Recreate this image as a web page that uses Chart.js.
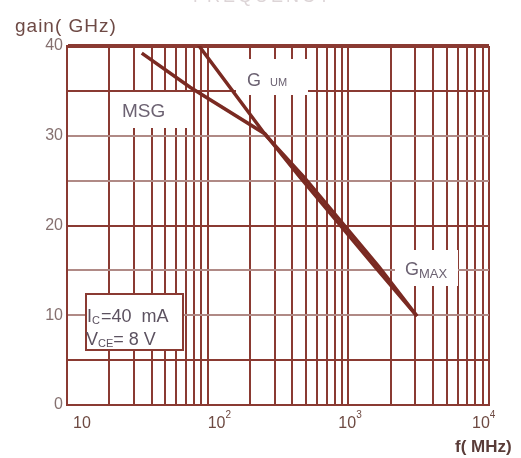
<!DOCTYPE html>
<html><head><meta charset="utf-8">
<script src="https://cdn.jsdelivr.net/npm/chart.js@4.4.1/dist/chart.umd.min.js"></script>
<style>html,body{margin:0;padding:0;background:#fff;}canvas{display:block;}</style>
</head><body>
<canvas id="c" width="521" height="458"></canvas>
<script>
// ---- data ----
const msgFreq = [34, 75, 256, 453, 1549, 3076];
const msgGain = [39.2, 35.4, 30.2, 25.4, 15.4, 9.9];
const gumFreq = [85, 260, 484, 1652, 3076];
const gumGain = [40.2, 30.0, 25.4, 15.4, 9.9];

const xGridValues = [10,20,30,40,50,60,70,80,90,100,200,300,400,500,600,700,800,900,
                     1000,2000,3000,4000,5000,6000,7000,8000,9000,10000];
const xLabelValues = [10, 100, 1000, 10000];
const xLabelBase = ['10', '10', '10', '10'];
const xLabelExp = ['', '2', '3', '4'];
const yLabelValues = [0, 10, 20, 30, 40];
const yRedLines = [5, 20, 35, 40];

const RED = '#8a3a32';
const MIX = '#b08a86';
const CURVE = '#7a2a22';
const FONT = '"Liberation Sans", Arial, sans-serif';

function runs(ctx, x, y, parts, color) {
  ctx.fillStyle = color;
  ctx.textAlign = 'left';
  ctx.textBaseline = 'alphabetic';
  let cx = x;
  for (const p of parts) {
    ctx.font = (p.bold ? 'bold ' : '') + p.size + 'px ' + FONT;
    ctx.fillText(p.t, cx, y + (p.dy || 0));
    cx += ctx.measureText(p.t).width + (p.gap || 0);
  }
}

const decor = {
  id: 'decor',
  beforeDatasetsDraw(chart) {
    const ctx = chart.ctx;
    ctx.save();
    ctx.fillStyle = '#fff';
    ctx.fillRect(115, 92, 76, 36);   // MSG gap
    ctx.fillRect(236, 59, 72, 36);   // GUM gap
    ctx.fillRect(395, 250, 63, 36);  // GMAX gap
    ctx.fillRect(86, 294, 97, 56);   // condition box
    ctx.strokeStyle = RED; ctx.lineWidth = 2;
    ctx.strokeRect(86, 294, 97, 56);
    ctx.restore();
  },
  afterDraw(chart) {
    const ctx = chart.ctx;
    ctx.save();
    const lab = '#6c6272';
    runs(ctx, 122, 117, [{t:'MSG', size:19}], lab);
    runs(ctx, 247, 86, [{t:'G', size:18, gap:9}, {t:'UM', size:11}], lab);
    runs(ctx, 405, 275, [{t:'G', size:18}, {t:'MAX', size:13, dy:3}], lab);
    runs(ctx, 87, 322, [{t:'I', size:18}, {t:'C', size:11, dy:2, gap:1}, {t:'=40  mA', size:18}], '#5c5260');
    runs(ctx, 86, 345, [{t:'V', size:18}, {t:'CE', size:11, dy:2}, {t:'= 8 V', size:18}], '#5c5260');
    // axis titles
    ctx.letterSpacing = '1px';
    runs(ctx, 15, 32, [{t:'gain( GHz)', size:19}], '#6e4a45');
    ctx.letterSpacing = '0px';
    runs(ctx, 455, 452, [{t:'f( MHz)', size:17, bold:true}], '#5a3c38');
    // top (clipped) title
    ctx.letterSpacing = '3px';
    runs(ctx, 193, 2, [{t:'FREQUENCY', size:18}], '#ddd5d7');
    ctx.letterSpacing = '0px';
    // x tick labels with superscripts
    const xs = chart.scales.x;
    const dx = [6, 0, -10, -17];
    xLabelValues.forEach((v, i) => {
      const px = xs.getPixelForValue(v) + dx[i];
      runs(ctx, px, 428, [{t:xLabelBase[i], size:16}, {t:xLabelExp[i], size:10, dy:-10}], '#6e4a42');
    });
    ctx.restore();
  }
};

new Chart(document.getElementById('c'), {
  type: 'scatter',
  data: {
    datasets: [
      { label: 'MSG / GMAX', data: msgFreq.map((f, i) => ({x: f, y: msgGain[i]})),
        showLine: true, borderColor: CURVE, borderWidth: 3.5, pointRadius: 0, tension: 0 },
      { label: 'GUM', data: gumFreq.map((f, i) => ({x: f, y: gumGain[i]})),
        showLine: true, borderColor: CURVE, borderWidth: 3.5, pointRadius: 0, tension: 0 }
    ]
  },
  options: {
    responsive: false, animation: false,
    layout: { padding: { top: 46, right: 32, left: 0, bottom: 0 } },
    plugins: { legend: { display: false }, tooltip: { enabled: false } },
    scales: {
      x: {
        type: 'logarithmic', min: 10, max: 10000,
        afterBuildTicks: s => { s.ticks = xGridValues.map(v => ({value: v})); },
        afterFit: s => { s.height = 53; },
        ticks: { display: false },
        grid: { color: RED, lineWidth: 2, drawTicks: false },
        border: { display: true, color: RED, width: 2 }
      },
      y: {
        min: 0, max: 40,
        afterFit: s => { s.width = 67; },
        ticks: { stepSize: 5, padding: 4, color: '#85706f',
                 font: { family: FONT, size: 16 },
                 callback: v => yLabelValues.includes(v) ? String(v) : '' },
        grid: { drawTicks: false,
                color: c => yRedLines.includes(c.tick.value) ? RED : MIX,
                lineWidth: c => c.tick.value === 40 ? 4 : 2 },
        border: { display: true, color: RED, width: 2 }
      }
    }
  },
  plugins: [decor]
});
</script>
</body></html>
